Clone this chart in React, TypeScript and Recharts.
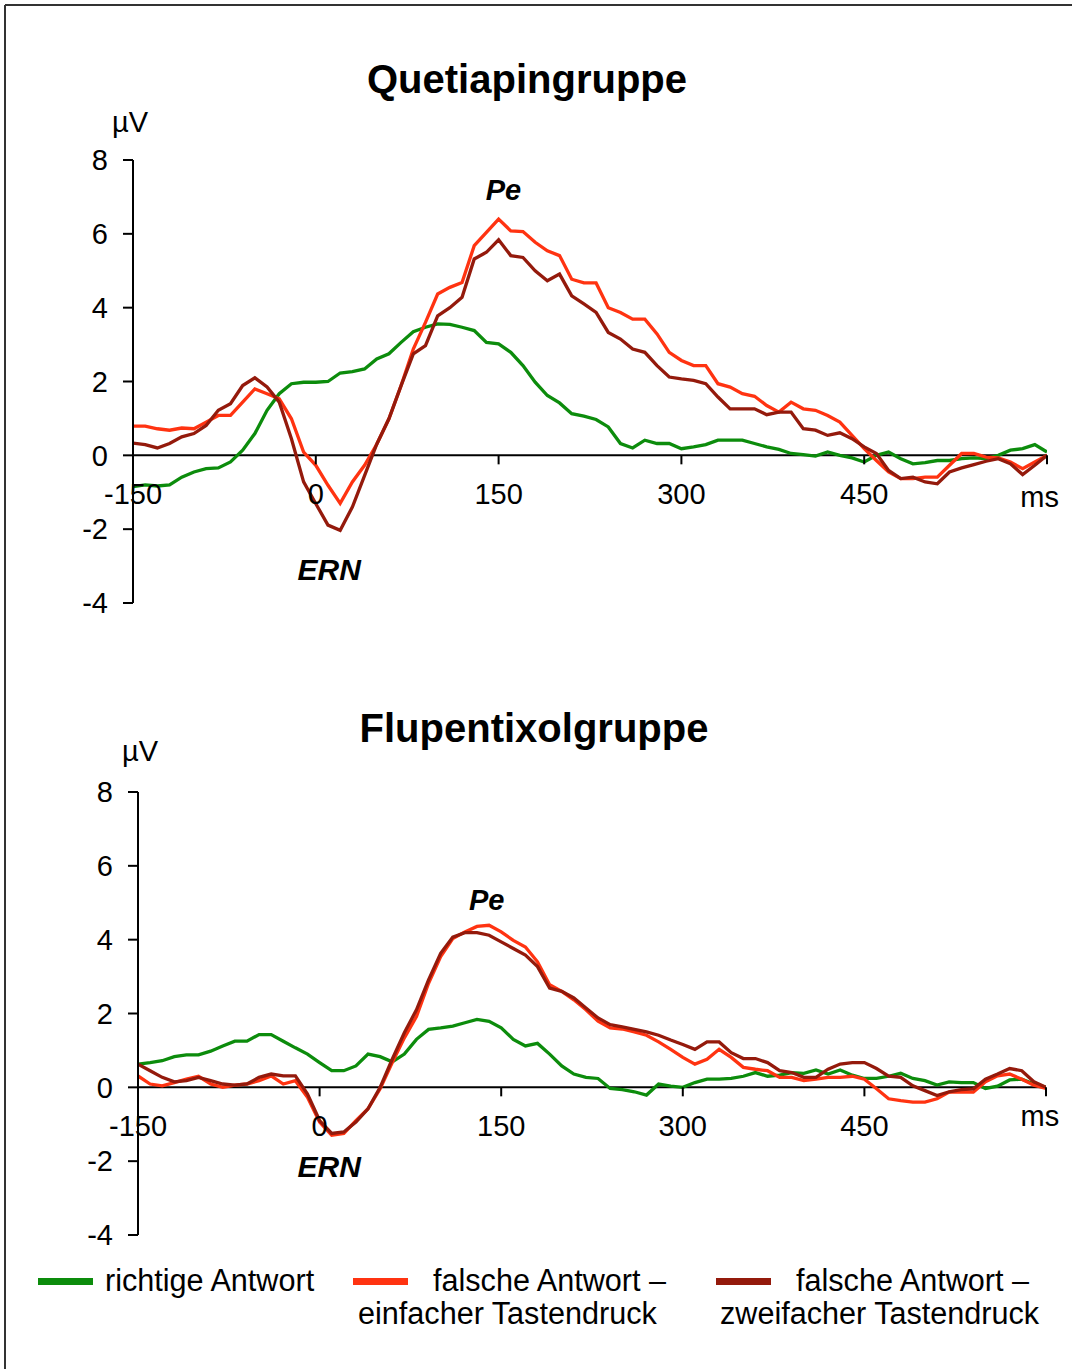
import React from 'react';
import { LineChart, Line, XAxis, YAxis, ReferenceLine, ReferenceDot } from 'recharts';

// time axis (ms)
const times = [
  -150, -140, -130, -120, -110, -100, -90, -80, -70, -60,
  -50, -40, -30, -20, -10, 0, 10, 20, 30, 40,
  50, 60, 70, 80, 90, 100, 110, 120, 130, 140,
  150, 160, 170, 180, 190, 200, 210, 220, 230, 240,
  250, 260, 270, 280, 290, 300, 310, 320, 330, 340,
  350, 360, 370, 380, 390, 400, 410, 420, 430, 440,
  450, 460, 470, 480, 490, 500, 510, 520, 530, 540,
  550, 560, 570, 580, 590, 600,
];

// Quetiapingruppe
const qGreen = [
  -0.85, -0.8, -0.83, -0.8, -0.59, -0.45, -0.36, -0.34, -0.18, 0.14,
  0.59, 1.22, 1.67, 1.94, 1.98, 1.98, 2.0, 2.23, 2.27, 2.34,
  2.61, 2.75, 3.06, 3.35, 3.47, 3.56, 3.55, 3.47, 3.38, 3.06,
  3.02, 2.79, 2.43, 1.98, 1.62, 1.42, 1.13, 1.06, 0.97, 0.77,
  0.32, 0.2, 0.41, 0.32, 0.32, 0.18, 0.23, 0.29, 0.41, 0.41,
  0.41, 0.32, 0.23, 0.16, 0.05, 0.02, -0.02, 0.09, 0.0, -0.07,
  -0.18, 0.0, 0.09, -0.09, -0.23, -0.2, -0.14, -0.14, -0.09, -0.07,
  -0.09, 0.0, 0.14, 0.18, 0.29, 0.09,
];
const qRed = [
  0.79, 0.79, 0.72, 0.68, 0.74, 0.72, 0.9, 1.08, 1.08, 1.44,
  1.8, 1.67, 1.53, 0.99, 0.09, -0.27, -0.81, -1.3, -0.72, -0.27,
  0.3, 0.99, 1.89, 2.88, 3.6, 4.37, 4.55, 4.68, 5.68, 6.04,
  6.4, 6.08, 6.06, 5.77, 5.54, 5.41, 4.77, 4.67, 4.67, 4.0,
  3.87, 3.69, 3.69, 3.29, 2.79, 2.57, 2.43, 2.43, 1.94, 1.85,
  1.67, 1.6, 1.35, 1.17, 1.44, 1.26, 1.22, 1.08, 0.9, 0.54,
  0.18, -0.14, -0.45, -0.63, -0.63, -0.59, -0.59, -0.27, 0.05, 0.05,
  -0.05, -0.07, -0.18, -0.36, -0.18, 0.0,
];
const qDark = [
  0.33, 0.29, 0.2, 0.32, 0.5, 0.59, 0.81, 1.22, 1.4, 1.89,
  2.1, 1.85, 1.44, 0.45, -0.72, -1.31, -1.89, -2.03, -1.4, -0.55,
  0.3, 0.99, 1.89, 2.75, 2.97, 3.78, 4.0, 4.28, 5.32, 5.5,
  5.84, 5.41, 5.36, 5.0, 4.73, 4.91, 4.32, 4.1, 3.87, 3.33,
  3.15, 2.88, 2.79, 2.43, 2.12, 2.07, 2.03, 1.94, 1.58, 1.26,
  1.26, 1.26, 1.1, 1.17, 1.17, 0.72, 0.68, 0.54, 0.61, 0.45,
  0.23, 0.05, -0.41, -0.63, -0.59, -0.72, -0.77, -0.45, -0.34, -0.25,
  -0.16, -0.09, -0.23, -0.52, -0.27, 0.0,
];

// Flupentixolgruppe
const fGreen = [
  0.63, 0.67, 0.72, 0.83, 0.88, 0.88, 0.98, 1.12, 1.25, 1.25,
  1.43, 1.43, 1.25, 1.07, 0.9, 0.67, 0.45, 0.45, 0.58, 0.9,
  0.83, 0.69, 0.9, 1.3, 1.57, 1.61, 1.66, 1.75, 1.84, 1.79,
  1.61, 1.3, 1.12, 1.19, 0.9, 0.58, 0.36, 0.27, 0.24, -0.03,
  -0.06, -0.12, -0.21, 0.09, 0.03, 0.0, 0.13, 0.22, 0.22, 0.24,
  0.3, 0.4, 0.3, 0.33, 0.4, 0.38, 0.47, 0.36, 0.47, 0.33,
  0.24, 0.24, 0.3, 0.38, 0.24, 0.18, 0.06, 0.15, 0.13, 0.13,
  -0.03, 0.03, 0.2, 0.22, 0.09, 0.0,
];
const fRed = [
  0.31, 0.09, 0.04, 0.13, 0.22, 0.3, 0.09, 0.0, 0.06, 0.09,
  0.18, 0.31, 0.09, 0.18, -0.27, -0.94, -1.3, -1.25, -0.9, -0.58,
  -0.04, 0.67, 1.34, 1.92, 2.82, 3.54, 4.03, 4.21, 4.36, 4.39,
  4.21, 3.98, 3.8, 3.4, 2.78, 2.6, 2.37, 2.1, 1.79, 1.61,
  1.58, 1.5, 1.41, 1.23, 1.03, 0.81, 0.63, 0.76, 1.03, 0.81,
  0.54, 0.49, 0.45, 0.27, 0.27, 0.18, 0.22, 0.27, 0.27, 0.3,
  0.22, -0.04, -0.31, -0.36, -0.4, -0.4, -0.31, -0.13, -0.12, -0.13,
  0.15, 0.31, 0.36, 0.22, 0.06, -0.03,
];
const fDark = [
  0.63, 0.45, 0.27, 0.15, 0.18, 0.27, 0.18, 0.09, 0.06, 0.09,
  0.27, 0.36, 0.31, 0.31, -0.18, -0.9, -1.25, -1.21, -0.94, -0.58,
  0.0, 0.76, 1.48, 2.1, 2.91, 3.63, 4.07, 4.19, 4.19, 4.12,
  3.94, 3.76, 3.58, 3.27, 2.69, 2.6, 2.42, 2.15, 1.88, 1.7,
  1.64, 1.57, 1.5, 1.41, 1.28, 1.16, 1.03, 1.23, 1.23, 0.94,
  0.78, 0.78, 0.67, 0.45, 0.4, 0.27, 0.27, 0.49, 0.63, 0.67,
  0.67, 0.51, 0.3, 0.27, 0.04, -0.09, -0.22, -0.12, -0.06, -0.04,
  0.22, 0.36, 0.51, 0.45, 0.15, 0.0,
];

const yTicks = [-4, -2, 0, 2, 4, 6, 8];
const xTicks = [-150, 0, 150, 300, 450, 600];
const xTickLabels = ['-150', '0', '150', '300', '450', ''];

const seriesNames = [
  'richtige Antwort',
  'falsche Antwort – einfacher Tastendruck',
  'falsche Antwort – zweifacher Tastendruck',
];
const GREEN = '#0c8c0c';
const RED = '#ff3311';
const DARK = '#941a0c';
const FONT = '"Liberation Sans", Arial, Helvetica, sans-serif';

const qData = times.map((t, i) => ({ t, green: qGreen[i], red: qRed[i], dark: qDark[i] }));
const fData = times.map((t, i) => ({ t, green: fGreen[i], red: fRed[i], dark: fDark[i] }));

const makeXTick = (label: string) => (props: any) => {
  const { cx, cy } = props;
  return (
    <g>
      <line x1={cx} y1={cy} x2={cx} y2={cy + 9} stroke="#000" strokeWidth={2} />
      {label ? (
        <text x={cx} y={cy + 39} textAnchor="middle" dominantBaseline="central" fontSize={29} fill="#000">
          {label}
        </text>
      ) : null}
    </g>
  );
};

const makeText = (label: string, size: number, bold: boolean, italic: boolean) => (props: any) => {
  const { cx, cy } = props;
  return (
    <text
      x={cx}
      y={cy}
      textAnchor="middle"
      dominantBaseline="central"
      fontSize={size}
      fontWeight={bold ? 'bold' : 'normal'}
      fontStyle={italic ? 'italic' : 'normal'}
      fill="#000"
    >
      {label}
    </text>
  );
};

type PanelProps = {
  data: any[];
  top: number;
  height: number;
  margin: { top: number; right: number; bottom: number; left: number };
  pe: [number, number];
  ern: [number, number];
  ms: [number, number];
};

function Panel({ data, top, height, margin, pe, ern, ms }: PanelProps) {
  return (
    <div style={{ position: 'absolute', left: 0, top, width: 1072, height }}>
      <LineChart width={1072} height={height} data={data} margin={margin}>
        <XAxis type="number" dataKey="t" domain={[-150, 600]} hide allowDataOverflow />
        <YAxis
          type="number"
          domain={[-4, 8]}
          ticks={yTicks}
          interval={0}
          width={60}
          tickSize={10}
          tickMargin={15}
          axisLine={{ stroke: '#000', strokeWidth: 2 }}
          tickLine={{ stroke: '#000', strokeWidth: 2 }}
          tick={{ fontSize: 29, fill: '#000', fontFamily: FONT }}
          allowDataOverflow
        />
        <ReferenceLine y={0} stroke="#000" strokeWidth={2} />
        {xTicks.map((x, i) => (
          <ReferenceDot key={'xt' + x} x={x} y={0} r={0} shape={makeXTick(xTickLabels[i])} />
        ))}
        <Line type="linear" dataKey="green" name={seriesNames[0]} stroke={GREEN} strokeWidth={3.3} dot={false} isAnimationActive={false} />
        <Line type="linear" dataKey="red" name={seriesNames[1]} stroke={RED} strokeWidth={3.3} dot={false} isAnimationActive={false} />
        <Line type="linear" dataKey="dark" name={seriesNames[2]} stroke={DARK} strokeWidth={3.3} dot={false} isAnimationActive={false} />
        <ReferenceDot x={pe[0]} y={pe[1]} r={0} shape={makeText('Pe', 29, true, true)} />
        <ReferenceDot x={ern[0]} y={ern[1]} r={0} shape={makeText('ERN', 30, true, true)} />
        <ReferenceDot x={ms[0]} y={ms[1]} r={0} shape={makeText('ms', 29, false, false)} />
      </LineChart>
    </div>
  );
}

export default function App() {
  return (
    <div
      style={{
        position: 'absolute',
        left: 0,
        top: 0,
        width: 1072,
        height: 1369,
        background: '#fff',
        fontFamily: FONT,
        overflow: 'hidden',
      }}
    >
      <svg width={1072} height={1369} style={{ position: 'absolute', left: 0, top: 0 }}>
        <line x1={5} y1={5} x2={1072} y2={5} stroke="#333" strokeWidth={2} />
        <line x1={5} y1={5} x2={5} y2={1369} stroke="#333" strokeWidth={2} />
        <text x={527} y={79} textAnchor="middle" dominantBaseline="central" fontSize={40} fontWeight="bold" fill="#000">
          Quetiapingruppe
        </text>
        <text x={534} y={728} textAnchor="middle" dominantBaseline="central" fontSize={40} fontWeight="bold" fill="#000">
          Flupentixolgruppe
        </text>
        <text x={130} y={122} textAnchor="middle" dominantBaseline="central" fontSize={29} fill="#000">µV</text>
        <text x={140} y={751} textAnchor="middle" dominantBaseline="central" fontSize={29} fill="#000">µV</text>

        <rect x={38} y={1278} width={55} height={7} fill={GREEN} />
        <text x={105} y={1280} dominantBaseline="central" fontSize={30.6} fill="#000">richtige Antwort</text>

        <rect x={353} y={1278} width={55} height={7} fill={RED} />
        <text x={433} y={1280} dominantBaseline="central" fontSize={30.6} fill="#000">falsche Antwort –</text>
        <text x={358} y={1313} dominantBaseline="central" fontSize={30.6} fill="#000">einfacher Tastendruck</text>

        <rect x={716} y={1278} width={55} height={7} fill={DARK} />
        <text x={796} y={1280} dominantBaseline="central" fontSize={30.6} fill="#000">falsche Antwort –</text>
        <text x={720} y={1313} dominantBaseline="central" fontSize={30.6} fill="#000">zweifacher Tastendruck</text>
      </svg>

      <Panel
        data={qData}
        top={0}
        height={640}
        margin={{ top: 160, right: 25, bottom: 37, left: 73 }}
        pe={[154, 7.19]}
        ern={[11, -3.08]}
        ms={[594, -1.14]}
      />
      <Panel
        data={fData}
        top={640}
        height={640}
        margin={{ top: 152, right: 26, bottom: 45, left: 78 }}
        pe={[138, 5.08]}
        ern={[8, -2.14]}
        ms={[595, -0.78]}
      />
    </div>
  );
}
